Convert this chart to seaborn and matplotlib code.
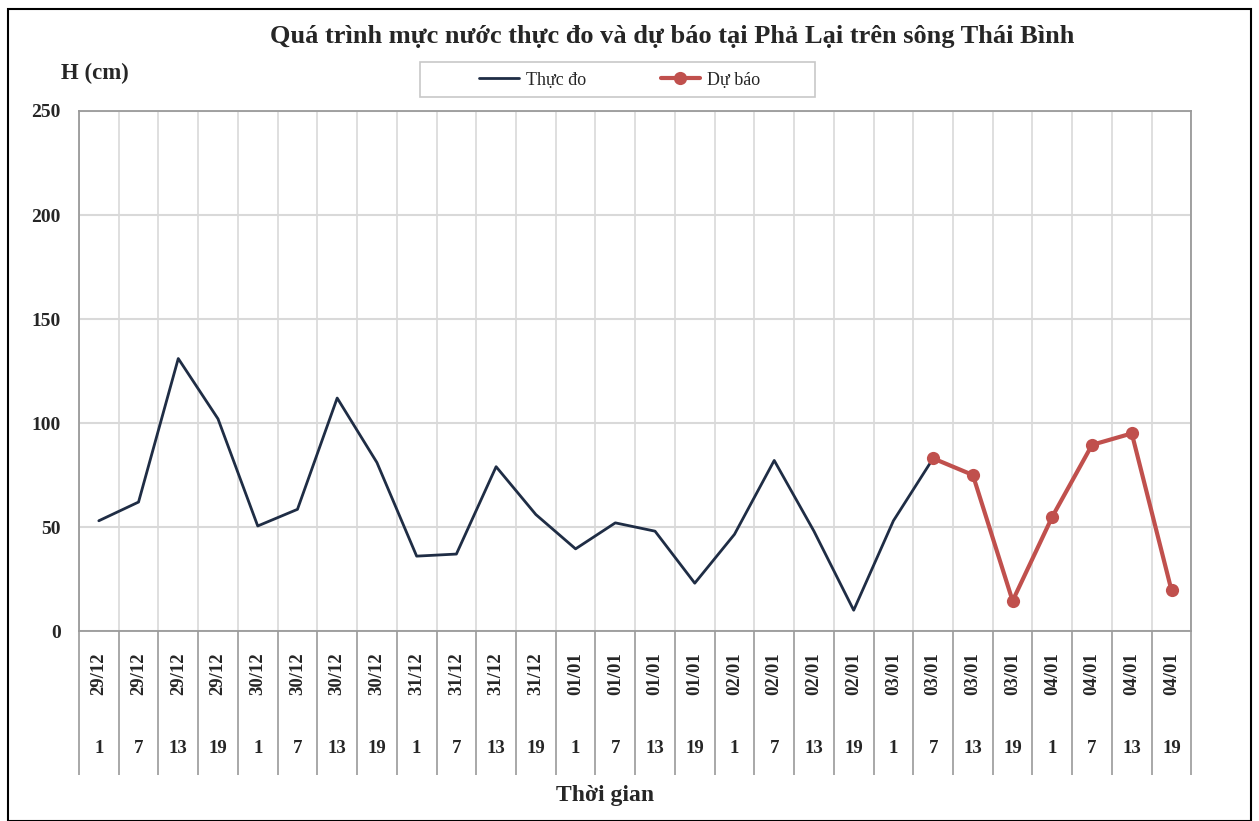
import numpy as np
import pandas as pd
import seaborn as sns
import matplotlib.pyplot as plt
from matplotlib.patches import Rectangle
import matplotlib.transforms as mtransforms

sns.set_theme(style="white")
plt.rcParams['font.family'] = ['Liberation Serif', 'DejaVu Serif']

# ==========================================
# DATA
# ==========================================
dates = ['29/12'] * 4 + ['30/12'] * 4 + ['31/12'] * 4 + ['01/01'] * 4 + \
        ['02/01'] * 4 + ['03/01'] * 4 + ['04/01'] * 4
hours = ['1', '7', '13', '19'] * 7

# measured water level (cm), up to 03/01 7h
observed = [53, 62, 131, 102, 50.5, 58.5, 112, 81, 36, 37, 79, 56,
            39.5, 52, 48, 23, 46.5, 82, 48, 10, 53, 83]
# forecast water level (cm), from 03/01 7h
forecast = [83, 75, 14.5, 55, 89.5, 95, 19.5]

obs_df = pd.DataFrame({'idx': range(len(observed)), 'H': observed})
fc_start = len(observed) - 1
fc_df = pd.DataFrame({'idx': range(fc_start, fc_start + len(forecast)), 'H': forecast})

# ==========================================
# FIGURE
# ==========================================
fig = plt.figure(figsize=(12.59, 8.21), dpi=100)
ax = fig.add_axes([0.0627, 0.2314, 0.8836, 0.6334])

sns.lineplot(data=obs_df, x='idx', y='H', ax=ax, color='#1f2d45',
             linewidth=2.0, label='Thực đo')
sns.lineplot(data=fc_df, x='idx', y='H', ax=ax, color='#c0504d',
             linewidth=3, marker='o', markersize=9.5, markeredgewidth=0,
             label='Dự báo')

n = len(dates)
ax.set_xlim(-0.5, n - 0.5)
ax.set_ylim(0, 250)
ax.set_yticks([0, 50, 100, 150, 200, 250])
ax.set_yticklabels(['0', '50', '100', '150', '200', '250'],
                   fontsize=14, fontweight='bold')
ax.tick_params(axis='y', length=0, pad=13)

# category boundaries: vertical grid + separators below the axis
ax.set_xticks([])
ax.set_xticks(np.arange(-0.5, n, 1.0), minor=True)
ax.tick_params(axis='x', which='minor', bottom=True, length=104, width=1.2,
               color='#9a9a9a', direction='out', labelbottom=False)
ax.grid(axis='x', which='minor', color='#d9d9d9', linewidth=1.2)
ax.grid(axis='y', which='major', color='#d9d9d9', linewidth=1.5)
for s in ax.spines.values():
    s.set_color('#9a9a9a')
    s.set_linewidth(1.3)

ax.set_xlabel('')
ax.set_ylabel('')

trans = mtransforms.blended_transform_factory(ax.transData, ax.transAxes)
for i, (d, h) in enumerate(zip(dates, hours)):
    ax.text(i, -0.082, d, transform=trans, rotation=90, ha='center',
            va='center', fontsize=13.5, fontweight='bold')
    ax.text(i, -0.225, h, transform=trans, ha='center', va='center',
            fontsize=13.5, fontweight='bold')

fig.text(605 / 1259, 1 - 795 / 821, 'Thời gian', ha='center', va='center',
         fontsize=17, fontweight='bold')
fig.text(95 / 1259, 1 - 73 / 821, 'H (cm)', ha='center', va='center',
         fontsize=16.5, fontweight='bold')
fig.text(672 / 1259, 1 - 37 / 821,
         'Quá trình mực nước thực đo và dự báo tại Phả Lại trên sông Thái Bình',
         ha='center', va='center', fontsize=19, fontweight='bold')

leg = ax.legend(ncol=2, loc='center',
                bbox_to_anchor=(620 / 1259, 1 - 80 / 821),
                bbox_transform=fig.transFigure, frameon=False,
                fontsize=13, handlelength=2.2, handletextpad=0.4,
                columnspacing=4.1)

# legend box
fig.patches.append(Rectangle((420 / 1259, 1 - 97 / 821), 395 / 1259, 35 / 821,
                             transform=fig.transFigure, fill=False,
                             edgecolor='#c8c8c8', linewidth=1.2))

# outer border
fig.patches.append(Rectangle((0.006, 0.0), 0.988, 0.989, transform=fig.transFigure,
                             fill=False, edgecolor='black', linewidth=1.5))

fig.savefig('out.png', dpi=100)
